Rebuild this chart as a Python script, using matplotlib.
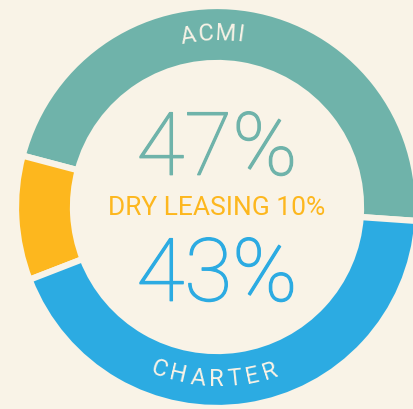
import numpy as np
import matplotlib.pyplot as plt
import matplotlib.patheffects as pe

# --- DATA ---
labels = ['ACMI', 'DRY LEASING', 'CHARTER']
shares = [47, 10, 43]
colors = ['#6FB3AA', '#FDB71E', '#2CABE2']

BG = '#F9F3E7'
CX, CY = 217, 202      # donut centre in pixel coords (y up)
R_OUT, R_IN = 201, 144
FONT = 'Roboto'


def arc_text(ax, text, mid_angle, radius, size, color, top=True, track=3.0):
    # place each letter along the arc, measured with the renderer
    fig = ax.figure
    rend = fig.canvas.get_renderer()
    widths = []
    for ch in text:
        t = ax.text(0, 0, ch, fontsize=size, family=FONT)
        widths.append(t.get_window_extent(rend).width + track)
        t.remove()
    total = sum(widths)
    pos = -total / 2
    for ch, w in zip(text, widths):
        off = np.degrees((pos + w / 2) / radius)
        if top:
            a = mid_angle - off
            rot = a - 90
        else:
            a = mid_angle + off
            rot = a + 90
        x = CX + radius * np.cos(np.radians(a))
        y = CY + radius * np.sin(np.radians(a))
        ax.text(x, y, ch, fontsize=size, family=FONT, color=color,
                ha='center', va='center', rotation=rot, rotation_mode='anchor')
        pos += w


fig = plt.figure(figsize=(4.13, 4.10), dpi=100)
fig.patch.set_facecolor(BG)
ax = fig.add_axes([0, 0, 1, 1])
ax.set_facecolor(BG)

ax.pie(shares, colors=colors, startangle=-4, counterclock=True,
       center=(CX, CY), radius=R_OUT,
       wedgeprops=dict(width=R_OUT - R_IN, edgecolor=BG, linewidth=4.5))

ax.set_xlim(0, 413)
ax.set_ylim(0, 410)
ax.set_aspect('equal')
ax.axis('off')

mid_r = (R_OUT + R_IN) / 2
arc_text(ax, labels[0], 91.5, mid_r + 2, 17, BG, top=True, track=2)
arc_text(ax, labels[2], 269, mid_r - 1, 17, BG, top=False, track=4)

for val, yc, col in [(shares[0], 152, colors[0]), (shares[2], 278, colors[2])]:
    ax.text(CX, 410 - yc, f"{val}%", fontsize=63, family=FONT,
            fontweight='light', color=col, ha='center', va='center',
            path_effects=[pe.withStroke(linewidth=0.9, foreground=col)])

ax.text(CX, 410 - 208, f"{labels[1]} {shares[1]}%", fontsize=19, family=FONT,
        color=colors[1], ha='center', va='center')

fig.savefig('out.png', dpi=100, facecolor=BG)
